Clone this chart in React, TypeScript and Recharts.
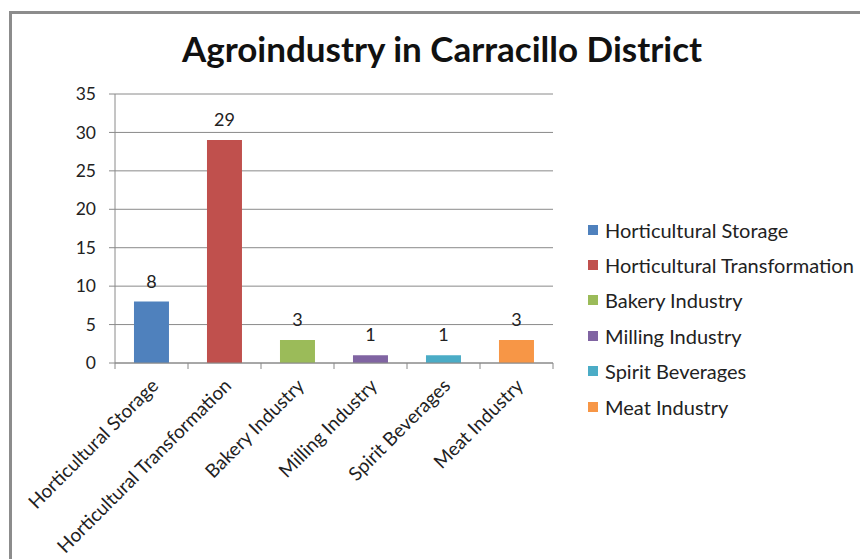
import React from 'react';
import { BarChart, Bar, XAxis, YAxis, CartesianGrid, Cell, LabelList } from 'recharts';

const categories = [
  'Horticultural Storage',
  'Horticultural Transformation',
  'Bakery Industry',
  'Milling Industry',
  'Spirit Beverages',
  'Meat Industry',
];
const counts = [8, 29, 3, 1, 1, 3];
const colors = ['#4F81BD', '#C0504D', '#9BBB59', '#8064A2', '#4BACC6', '#F79646'];
const yTicks = [0, 5, 10, 15, 20, 25, 30, 35];

const data = categories.map((name, i) => ({ name, value: counts[i] }));

const FONT = 'Lato, "Open Sans", sans-serif';
const CHART_W = 860;
const CHART_H = 559;
const MARGIN = { top: 94, right: 307, bottom: 46, left: 55 };
const Y_W = 60;
const band = (CHART_W - MARGIN.left - Y_W - MARGIN.right) / categories.length;

// category labels at -45deg, tick marks on the category boundaries like Excel
const XTick = (props: any) => {
  const { x, y, payload, index } = props;
  const left = x - band / 2;
  const ax = x + 8;
  const ay = y + 16;
  return (
    <g>
      <line x1={left} y1={y - 8} x2={left} y2={y - 2} stroke="#888" />
      {index === categories.length - 1 && (
        <line x1={x + band / 2} y1={y - 8} x2={x + band / 2} y2={y - 2} stroke="#888" />
      )}
      <text
        x={ax}
        y={ay}
        textAnchor="end"
        transform={`rotate(-45, ${ax}, ${ay})`}
        fontSize={19}
        fontFamily={FONT}
        fill="#222"
      >
        {payload.value}
      </text>
    </g>
  );
};

const LegendBox = () => (
  <div style={{ position: 'absolute', left: 588, top: 212, fontFamily: FONT, fontSize: 20, color: '#222' }}>
    {categories.map((c, i) => (
      <div key={c} style={{ display: 'flex', alignItems: 'center', height: 35.4, whiteSpace: 'nowrap' }}>
        <span style={{ width: 10, height: 10, background: colors[i], marginRight: 7, display: 'inline-block' }} />
        {c}
      </div>
    ))}
  </div>
);

export default function App() {
  return (
    <div style={{ position: 'fixed', left: 0, top: 0, width: CHART_W, height: CHART_H, background: '#fff', overflow: 'hidden' }}>
      <div style={{ position: 'absolute', left: 9, top: 11, width: 900, height: 700, border: '3px solid #8c8c8c' }} />
      <div
        style={{
          position: 'absolute', left: 0, top: 27, width: 884, textAlign: 'center',
          fontFamily: FONT, fontWeight: 700, fontSize: 35, lineHeight: 1.2, color: '#111',
        }}
      >
        Agroindustry in Carracillo District
      </div>
      <div style={{ position: 'absolute', left: 0, top: 0 }}>
        <BarChart width={CHART_W} height={CHART_H} data={data} margin={MARGIN} barCategoryGap="26%">
          <CartesianGrid vertical={false} stroke="#8a8a8a" />
          <XAxis
            dataKey="name"
            interval={0}
            height={150}
            tickLine={false}
            stroke="#8a8a8a"
            tick={<XTick />}
          />
          <YAxis
            width={Y_W}
            domain={[0, 35]}
            ticks={yTicks}
            stroke="#8a8a8a"
            tickSize={6}
            tickMargin={13}
            tick={{ fontSize: 17.5, fontFamily: FONT, fill: '#222' }}
          />
          <Bar dataKey="value" isAnimationActive={false}>
            {data.map((d, i) => (
              <Cell key={d.name} fill={colors[i]} />
            ))}
            <LabelList dataKey="value" position="top" offset={14} fontSize={18} fontFamily={FONT} fill="#222" />
          </Bar>
        </BarChart>
      </div>
      <LegendBox />
    </div>
  );
}
